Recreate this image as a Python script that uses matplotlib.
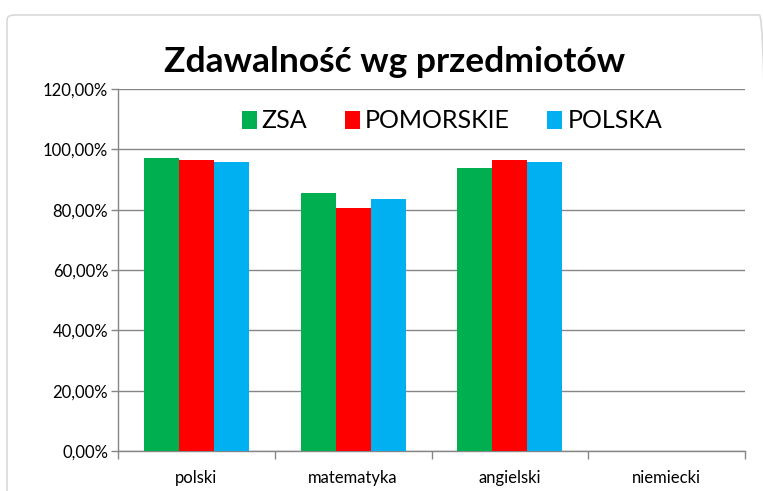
import numpy as np
import matplotlib
matplotlib.use('Agg')
import matplotlib.pyplot as plt
from matplotlib.patches import FancyBboxPatch
from matplotlib.ticker import FuncFormatter, FixedLocator

plt.rcParams['font.family'] = ['Lato', 'DejaVu Sans']

przedmioty = ['polski', 'matematyka', 'angielski', 'niemiecki']
zsa = [0.970, 0.856, 0.939, 0.0]
pomorskie = [0.966, 0.807, 0.966, 0.0]
polska = [0.959, 0.834, 0.959, 0.0]
serie = ['ZSA', 'POMORSKIE', 'POLSKA']
kolory = ['#00B050', '#FF0000', '#00B0F0']

fig = plt.figure(figsize=(7.63, 4.91), dpi=100)
fig.patch.set_facecolor('white')

# ramka wykresu jak w Excelu
ramka = FancyBboxPatch((7 / 763, -0.05), 760 / 763, 1 - 15 / 491 + 0.05,
                       boxstyle='round,pad=0,rounding_size=0.01',
                       transform=fig.transFigure, facecolor='none',
                       edgecolor='#D9D9D9', linewidth=1.2)
fig.patches.append(ramka)

ax = fig.add_axes([118 / 763, 1 - 451 / 491, 627 / 763, 362 / 491])

x = np.arange(len(przedmioty))
w = 0.223
for k, (dane, nazwa, kol) in enumerate(zip([zsa, pomorskie, polska], serie, kolory)):
    ax.bar(x + (k - 1) * w, dane, width=w, color=kol, label=nazwa, linewidth=0, zorder=3)

ax.set_xlim(-0.5, 3.5)
ax.set_ylim(0, 1.2)
ax.set_yticks(np.arange(0, 1.21, 0.2))
ax.yaxis.set_major_formatter(FuncFormatter(lambda v, p: ('%.2f%%' % (v * 100)).replace('.', ',')))
ax.yaxis.grid(True, color='#868686', linewidth=1, zorder=0)

ax.set_xticks(x)
ax.set_xticklabels(przedmioty)
ax.xaxis.set_minor_locator(FixedLocator(np.arange(-0.5, 3.6, 1)))
ax.tick_params(axis='x', which='major', length=0, pad=14, labelsize=12, colors='black')
ax.tick_params(axis='x', which='minor', length=6, color='#868686', width=1)
ax.tick_params(axis='y', length=5, color='#868686', width=1, labelsize=12, pad=2)

for s in ['top', 'right']:
    ax.spines[s].set_visible(False)
for s in ['left', 'bottom']:
    ax.spines[s].set_color('#868686')
    ax.spines[s].set_linewidth(1)

fig.text(395 / 763, 1 - 62 / 491, 'Zdawalność wg przedmiotów', ha='center', va='center',
         fontsize=25.5, fontweight='bold')

ax.legend(loc='center', bbox_to_anchor=(452 / 763, 1 - 121 / 491), bbox_transform=fig.transFigure,
          ncol=3, frameon=False, fontsize=18, handlelength=0.6, handleheight=0.7,
          handletextpad=0.2, columnspacing=1.5)

fig.savefig('out.png', dpi=100)
